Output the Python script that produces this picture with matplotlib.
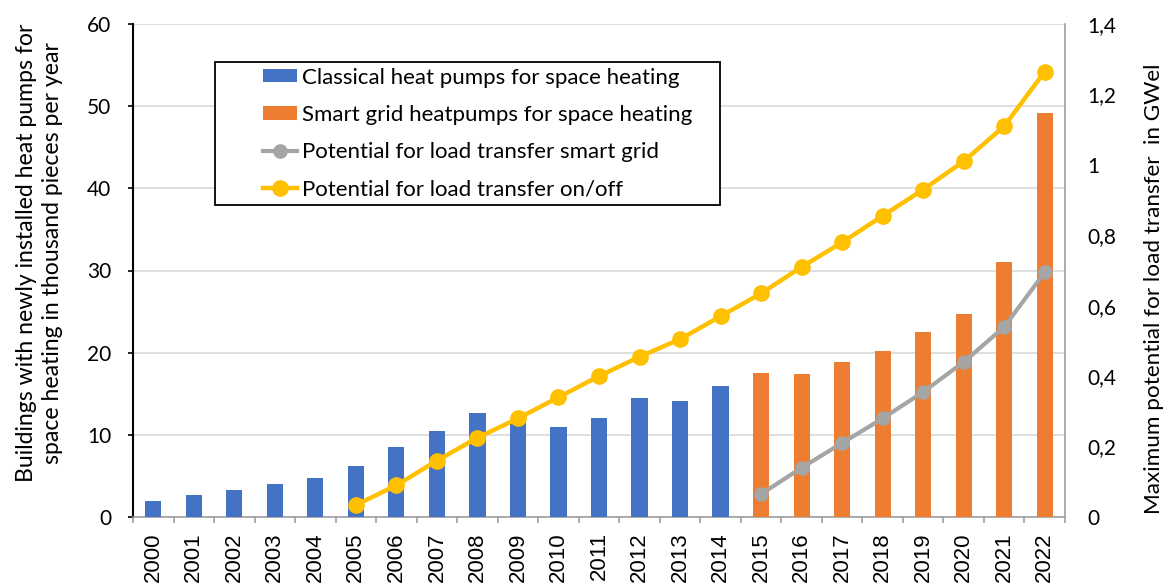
import matplotlib
matplotlib.use("Agg")
import matplotlib.pyplot as plt
from matplotlib.patches import Rectangle
import numpy as np

years = [str(y) for y in range(2000, 2023)]
classical = [2.0, 2.7, 3.3, 4.0, 4.7, 6.2, 8.5, 10.5, 12.7, 11.8, 11.0, 12.0, 14.5, 14.1, 15.9]
smart = [17.5, 17.4, 18.9, 20.2, 22.5, 24.7, 31.0, 49.2]
pot_smart = [0.065, 0.14, 0.21, 0.28, 0.355, 0.44, 0.54, 0.695]
pot_onoff = [0.034, 0.09, 0.16, 0.225, 0.28, 0.34, 0.40, 0.455, 0.505, 0.57,
             0.635, 0.71, 0.78, 0.855, 0.93, 1.01, 1.11, 1.265]

labels = ["Classical heat pumps for space heating",
          "Smart grid heatpumps for space heating",
          "Potential for load transfer smart grid",
          "Potential for load transfer on/off"]

plt.rcParams['font.family'] = ['Lato', 'DejaVu Sans']

fig = plt.figure(figsize=(11.73, 5.85), dpi=100)
ax = fig.add_axes([133 / 1173, 68 / 585, 932 / 1173, 493 / 585])
ax2 = ax.twinx()

x = np.arange(len(years))
xc = x[:len(classical)]
xs = x[len(classical):]
xon = x[len(years) - len(pot_onoff):]
xsm = x[len(years) - len(pot_smart):]

b1 = ax.bar(xc, classical, width=0.4, color='#4472C4', zorder=3)
b2 = ax.bar(xs, smart, width=0.4, color='#ED7D31', zorder=3)

l1, = ax2.plot(xsm, pot_smart, color='#A5A5A5', lw=3, marker='o', ms=9.5, zorder=4)
l2, = ax2.plot(xon, pot_onoff, color='#FFC000', lw=3.2, marker='o', ms=11, zorder=5)

ax.set_xlim(-0.5, len(years) - 0.5)
ax.set_ylim(0, 60)
ax.set_yticks(range(0, 61, 10))
ax2.set_ylim(0, 1.4)
ax2.set_yticks(np.arange(0, 1.41, 0.2))
ax2.set_yticklabels(['0', '0,2', '0,4', '0,6', '0,8', '1', '1,2', '1,4'])

ax.yaxis.grid(True, color='#D9D9D9', lw=1.2, zorder=0)
ax.set_axisbelow(True)

ax.set_xticks(x)
ax.set_xticklabels(years, rotation=90, fontsize=16, family=['Liberation Sans'])
ax.set_xticks(np.arange(-0.5, len(years), 1), minor=True)
ax.tick_params(axis='x', which='major', length=0, pad=11)
ax.tick_params(axis='x', which='minor', length=4.5, color='#A0A0A0', width=1.2)
ax.tick_params(axis='y', length=3.6, color='black', labelsize=15, width=1.2, pad=12)
ax2.tick_params(axis='y', length=0, labelsize=15, pad=16)

ax.spines['top'].set_visible(False)
ax2.spines['top'].set_visible(False)
ax2.spines['left'].set_visible(False)
ax2.spines['bottom'].set_visible(False)
ax.spines['right'].set_visible(False)
ax.spines['left'].set_color('black')
ax.spines['left'].set_linewidth(1.5)
ax.spines['bottom'].set_color('#A0A0A0')
ax.spines['bottom'].set_linewidth(1.2)
ax2.spines['right'].set_color('#A0A0A0')
ax2.spines['right'].set_linewidth(1.2)

ax.set_ylabel("Buildings with newly installed heat pumps for\nspace heating in thousand pieces per year",
              fontsize=16.6, labelpad=17, linespacing=1.3)
ax.yaxis.label.set_y(0.535)
ax2.set_ylabel("Maximum potential for load transfer  in GWel", fontsize=16.2, labelpad=20)
ax2.yaxis.label.set_y(0.462)

box = Rectangle((82 / 932, 312 / 493), 505 / 932, 143 / 493, transform=ax2.transAxes,
                facecolor='white', edgecolor='black', lw=1.3, zorder=6)
ax2.add_patch(box)

leg = ax2.legend([b1, b2, l1, l2], labels, loc='upper left',
                 bbox_to_anchor=(130 / 932, 449.5 / 493), fontsize=16,
                 frameon=False, handlelength=1.55, handleheight=0.55,
                 borderpad=0, labelspacing=0.78, handletextpad=0.22,
                 borderaxespad=0)
leg.set_zorder(7)

fig.savefig("out.png", dpi=100)
